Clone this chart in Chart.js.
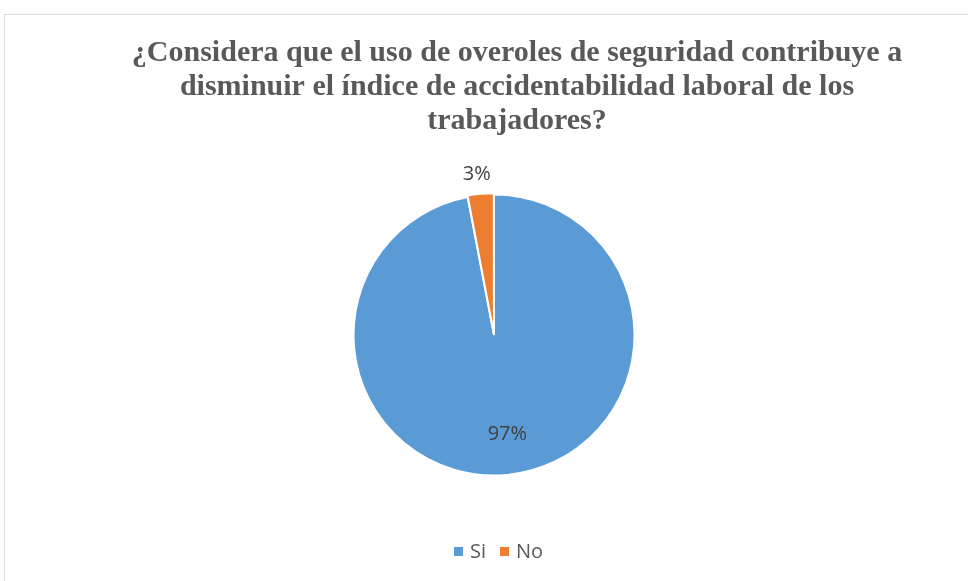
<!DOCTYPE html>
<html>
<head>
<meta charset="utf-8">
<script src="https://cdn.jsdelivr.net/npm/chart.js@4"></script>
<style>
    body { margin: 0; background: #ffffff; overflow: hidden; }
    #frame { position: absolute; left: 4px; top: 14px; width: 1030px; height: 620px; border: 1px solid #d9d9d9; }
    #pieChart { position: absolute; left: 0; top: 0; }
</style>
</head>
<body>
<div id="frame"></div>
<canvas id="pieChart" width="968" height="581"></canvas>
<script>
const titleLines = [
    '¿Considera que el uso de overoles de seguridad contribuye a',
    'disminuir el índice de accidentabilidad laboral de los',
    'trabajadores?'
];
const categories = ['Si', 'No'];
const values = [97, 3];
const colors = ['#5b9bd5', '#ed7d31'];

const total = values.reduce((a, b) => a + b, 0);

// title, slice labels and legend drawn by hand to match the original layout
const extras = {
    id: 'extras',
    afterDraw(chart) {
        const c = chart.ctx;
        c.save();
        c.fillStyle = '#595959';
        c.font = 'bold 30px "Liberation Serif", "Times New Roman", serif';
        c.textAlign = 'center';
        c.textBaseline = 'middle';
        titleLines.forEach((line, i) => c.fillText(line, 517, 53 + i * 34));

        c.font = '20px "Open Sans", sans-serif';
        c.fillStyle = '#404040';
        const arcs = chart.getDatasetMeta(0).data;
        arcs.forEach((arc, i) => {
            const p = arc.getProps(['x', 'y', 'startAngle', 'endAngle', 'outerRadius']);
            const mid = (p.startAngle + p.endAngle) / 2;
            const r = i === 0 ? p.outerRadius * 0.71 : p.outerRadius + 21;
            const label = Math.round(values[i] / total * 100) + '%';
            c.fillText(label, p.x + r * Math.cos(mid) + (i === 0 ? 4 : -2), p.y + r * Math.sin(mid));
        });

        // legend
        c.textAlign = 'left';
        let x = 454;
        const y = 552;
        categories.forEach((cat, i) => {
            c.fillStyle = colors[i];
            c.fillRect(x, y - 5, 9, 9);
            c.fillStyle = '#595959';
            c.fillText(cat, x + 16, y);
            x += 16 + c.measureText(cat).width + 14;
        });
        c.restore();
    }
};

new Chart(document.getElementById('pieChart').getContext('2d'), {
    type: 'pie',
    data: {
        labels: categories,
        datasets: [{
            data: values,
            backgroundColor: colors,
            borderColor: '#ffffff',
            borderWidth: 2,
            offset: [0, 3]
        }]
    },
    options: {
        responsive: false,
        animation: false,
        layout: { padding: { top: 192, bottom: 103, left: 20, right: 0 } },
        plugins: {
            legend: { display: false },
            tooltip: { enabled: false }
        }
    },
    plugins: [extras]
});
</script>
</body>
</html>
